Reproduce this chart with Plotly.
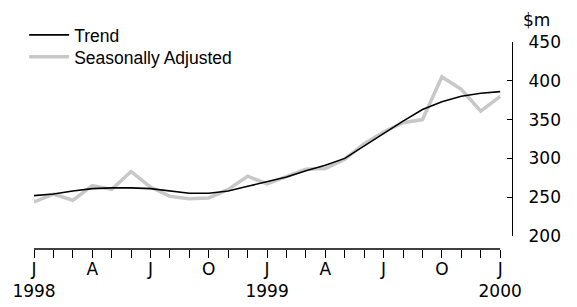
import plotly.graph_objects as go

months = ["Jan 1998","Feb 1998","Mar 1998","Apr 1998","May 1998","Jun 1998","Jul 1998","Aug 1998",
          "Sep 1998","Oct 1998","Nov 1998","Dec 1998","Jan 1999","Feb 1999","Mar 1999","Apr 1999",
          "May 1999","Jun 1999","Jul 1999","Aug 1999","Sep 1999","Oct 1999","Nov 1999","Dec 1999","Jan 2000"]
trend = [252, 254, 258, 261, 262, 262, 261, 258, 255, 255, 258, 264, 270, 276, 284, 291,
         300, 316, 333, 348, 363, 373, 380, 384, 386]
seas_adj = [244, 254, 246, 265, 260, 283, 263, 251, 248, 249, 260, 277, 267, 276, 286, 287,
            299, 319, 334, 346, 350, 405, 389, 361, 380]
tick_months = ["Jan 1998","Apr 1998","Jul 1998","Oct 1998","Jan 1999","Apr 1999","Jul 1999","Oct 1999","Jan 2000"]
tick_labels = ["J<br>1998","A","J","O","J<br>1999","A","J","O","J<br>2000"]
y_ticks = [200, 250, 300, 350, 400, 450]

fig = go.Figure()
fig.add_trace(go.Scatter(x=months, y=seas_adj, name="Seasonally Adjusted", mode="lines",
                         line=dict(color="#c8c8c8", width=3.5), legend="legend2"))
fig.add_trace(go.Scatter(x=months, y=trend, name="Trend", mode="lines",
                         line=dict(color="black", width=1.6), legend="legend"))

axis_font = dict(family="DejaVu Sans", size=17, color="black")
leg_font = dict(family="Liberation Sans", size=17.5, color="black")
leg_common = dict(xanchor="left", yanchor="middle", font=leg_font,
                  bgcolor="rgba(0,0,0,0)", itemwidth=40, borderwidth=0)

# page body has an 8px margin, so the figure is sized to fit inside the window
fig.update_layout(
    template="none",
    width=569, height=299,
    margin=dict(l=0, r=65, t=34, b=58, pad=0),
    paper_bgcolor="white", plot_bgcolor="white",
    showlegend=True,
    legend=dict(x=0.032, y=1.034, **leg_common),
    legend2=dict(x=0.032, y=0.928, **leg_common),
    xaxis=dict(type="category", categoryorder="array", categoryarray=months,
               domain=[26 / 504, 1], automargin=False,
               range=[0, 24.61], anchor="free", position=0,
               showline=False, showgrid=False, zeroline=False,
               tickmode="array", tickvals=months, ticktext=[""] * len(months),
               ticks="outside", ticklen=8, tickwidth=1.3, tickcolor="black",
               tickfont=axis_font),
    xaxis2=dict(type="category", categoryorder="array", categoryarray=months,
                domain=[26 / 504, 1], automargin=False,
                range=[0, 24.61], overlaying="x", anchor="free", position=0,
                showline=False, showgrid=False, zeroline=False,
                tickmode="array", tickvals=tick_months, ticktext=tick_labels,
                ticks="", tickfont=axis_font, ticklabelstandoff=8),
    yaxis=dict(range=[200, 450], domain=[0.063, 1], side="right", anchor="x",
               automargin=False,
               showline=True, linecolor="black", linewidth=1.3, mirror=False,
               showgrid=False, zeroline=False,
               tickmode="array", tickvals=y_ticks,
               ticks="inside", ticklen=5, tickwidth=1.3, tickcolor="black",
               tickfont=axis_font, ticklabelstandoff=12),
)
fig.add_trace(go.Scatter(x=[months[0]], y=[None], xaxis="x2", showlegend=False, hoverinfo="skip"))

fig.add_shape(type="line", xref="x", yref="paper", x0=0, x1=24, y0=0, y1=0,
              line=dict(color="black", width=1.3))
fig.add_annotation(text="$m", xref="paper", yref="paper", x=1, y=1, xanchor="left", yanchor="bottom",
                   xshift=9, yshift=10, showarrow=False, font=axis_font)

fig.write_html("out.html")
